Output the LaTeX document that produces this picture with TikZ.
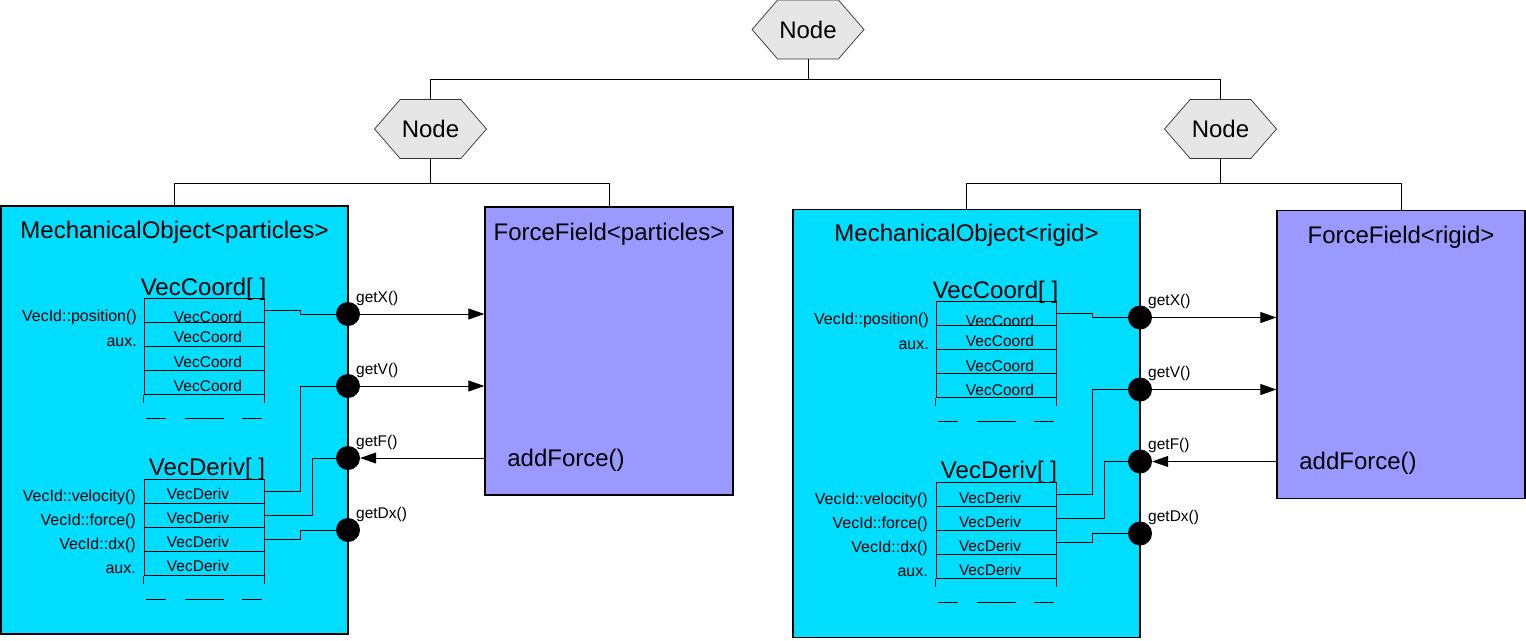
\documentclass[tikz,border=0pt]{standalone}
\usepackage{fontspec}
\setmainfont{Liberation Sans}
\usetikzlibrary{arrows.meta,shapes.symbols,calc}
\definecolor{mocyan}{RGB}{0,221,255}
\definecolor{ffblue}{RGB}{153,153,255}
\definecolor{hexgray}{RGB}{230,230,230}
\newcommand\myBig{\fontsize{24}{28}\selectfont}
\newcommand\myMid{\fontsize{15.5}{18}\selectfont}
\newcommand\myLbl{\fontsize{16}{18}\selectfont}
\newcommand\mySmall{\fontsize{15.5}{17}\selectfont}
\tikzset{
 hexnode/.style={shape=signal, signal to=west and east, signal pointer angle=98, draw=black!80, fill=hexgray, minimum width=112pt, minimum height=59pt, inner sep=0pt, font=\myBig, line width=0.7pt},
 mobox/.style={draw, fill=mocyan, line width=1.4pt, minimum width=347pt, minimum height=428pt, inner sep=0pt},
 ffbox/.style={draw, fill=ffblue, line width=1.4pt, minimum width=248pt, minimum height=288pt, inner sep=0pt},
 bigtxt/.style={font=\myBig, inner sep=0pt},
 rowbox/.style={draw, line width=1pt, minimum width=120pt, minimum height=24pt, inner sep=0pt},
 rowtxt/.style={font=\myMid, inner sep=0pt},
 lbltxt/.style={font=\myLbl, inner sep=0pt, anchor=east},
 gettxt/.style={font=\mySmall, inner sep=0pt, anchor=west},
 port/.style={circle, fill=black, minimum size=24pt, inner sep=0pt},
 wire/.style={line width=1pt},
 flow/.style={line width=1pt, -{Triangle[length=16pt,width=11pt]}},
}
\newcommand\mechhalf[5]{%
\begin{scope}[shift={(#2,#3)}]
 % boxes
 \node[mobox] (#1mo) at (174.5,420) {};
 \node[ffbox] (#1ff) at (609,351) {};
 \node[bigtxt] (#1motitle) at (174.5,232) {#4};
 \node[bigtxt] (#1fftitle) at (609,234) {#5};
 \node[bigtxt] (#1add) at (566,460) {addForce()};
 % VecCoord table
 \node[bigtxt, anchor=base] (#1ctitle) at (203.5,295) {VecCoord[ ]};
 \node[rowbox] (#1r1) at (204,310) {};
 \node[rowbox] (#1r2) at (204,334) {};
 \node[rowbox] (#1r3) at (204,358) {};
 \node[rowbox] (#1r4) at (204,382) {};
 \draw[wire] (#1r4.south west) -- ++(0,8);
 \draw[wire] (#1r4.south east) -- ++(0,8);
 \draw[wire] (146,418) -- (166,418) (185,418) -- (224,418) (242,418) -- (262,418);
 \node[rowtxt] (#1rt1) at (208,317) {VecCoord};
 \node[rowtxt] (#1rt2) at (208,337) {VecCoord};
 \node[rowtxt] (#1rt3) at (208,362) {VecCoord};
 \node[rowtxt] (#1rt4) at (208,386) {VecCoord};
 \node[lbltxt] (#1lpos) at (137,317) {VecId::position()};
 \node[lbltxt] (#1laux1) at (137,342) {aux.};
 % VecDeriv table
 \node[bigtxt, anchor=base] (#1dtitle) at (207,475) {VecDeriv[ ]};
 \node[rowbox] (#1d1) at (204,491) {};
 \node[rowbox] (#1d2) at (204,515) {};
 \node[rowbox] (#1d3) at (204,539) {};
 \node[rowbox] (#1d4) at (204,563) {};
 \draw[wire] (#1d4.south west) -- ++(0,8);
 \draw[wire] (#1d4.south east) -- ++(0,8);
 \draw[wire] (146,599) -- (166,599) (185,599) -- (224,599) (242,599) -- (262,599);
 \node[rowtxt] (#1dt1) at (198,494) {VecDeriv};
 \node[rowtxt] (#1dt2) at (198,518) {VecDeriv};
 \node[rowtxt] (#1dt3) at (198,542) {VecDeriv};
 \node[rowtxt] (#1dt4) at (198,566) {VecDeriv};
 \node[lbltxt] (#1lvel) at (136,497) {VecId::velocity()};
 \node[lbltxt] (#1lfor) at (136,521) {VecId::force()};
 \node[lbltxt] (#1ldx) at (136,545) {VecId::dx()};
 \node[lbltxt] (#1laux2) at (136,569) {aux.};
 % ports
 \node[port] (#1cx) at (348,314) {};
 \node[port] (#1cv) at (348,386) {};
 \node[port] (#1cf) at (348,458) {};
 \node[port] (#1cd) at (348,530) {};
 \node[gettxt] (#1gx) at (356,298) {getX()};
 \node[gettxt] (#1gv) at (356,370) {getV()};
 \node[gettxt] (#1gf) at (356,442) {getF()};
 \node[gettxt] (#1gd) at (356,514) {getDx()};
 % wires
 \draw[wire] (#1r1.east) -- ++(36,0) |- (#1cx);
 \draw[wire] (#1cv) -| ($(#1d1.east)+(36,0)$) -- (#1d1.east);
 \draw[wire] (#1cf) -| ($(#1d2.east)+(48,0)$) -- (#1d2.east);
 \draw[wire] (#1d3.east) -- ++(36,0) |- (#1cd);
 \draw[flow] (#1cx) -- (#1cx -| #1ff.west);
 \draw[flow] (#1cv) -- (#1cv -| #1ff.west);
 \draw[flow] (#1ff.west |- #1cf) -- (#1cf);
\end{scope}}
\begin{document}
\begin{tikzpicture}[x=1pt,y=-1pt]
\useasboundingbox (0,0) rectangle (1526,640);
\fill[white] (0,0) rectangle (1526,640);
\node[hexnode] (top) at (808,29.5) {Node};
\node[hexnode] (Lnode) at (430.5,129) {Node};
\node[hexnode] (Rnode) at (1220.5,129) {Node};
\mechhalf{L}{0}{0}{MechanicalObject<particles>}{ForceField<particles>}
\mechhalf{R}{792}{3.5}{MechanicalObject<rigid>}{ForceField<rigid>}
\draw[wire] (top.south) -- ++(0,20) -| (Lnode.north);
\draw[wire] (top.south) -- ++(0,20) -| (Rnode.north);
\draw[wire] (Lnode.south) -- ++(0,25) -| (Lmo.north);
\draw[wire] (Lnode.south) -- ++(0,25) -| (Lff.north);
\draw[wire] (Rnode.south) -- ++(0,25) -| (Rmo.north);
\draw[wire] (Rnode.south) -- ++(0,25) -| (Rff.north);
\end{tikzpicture}
\end{document}
